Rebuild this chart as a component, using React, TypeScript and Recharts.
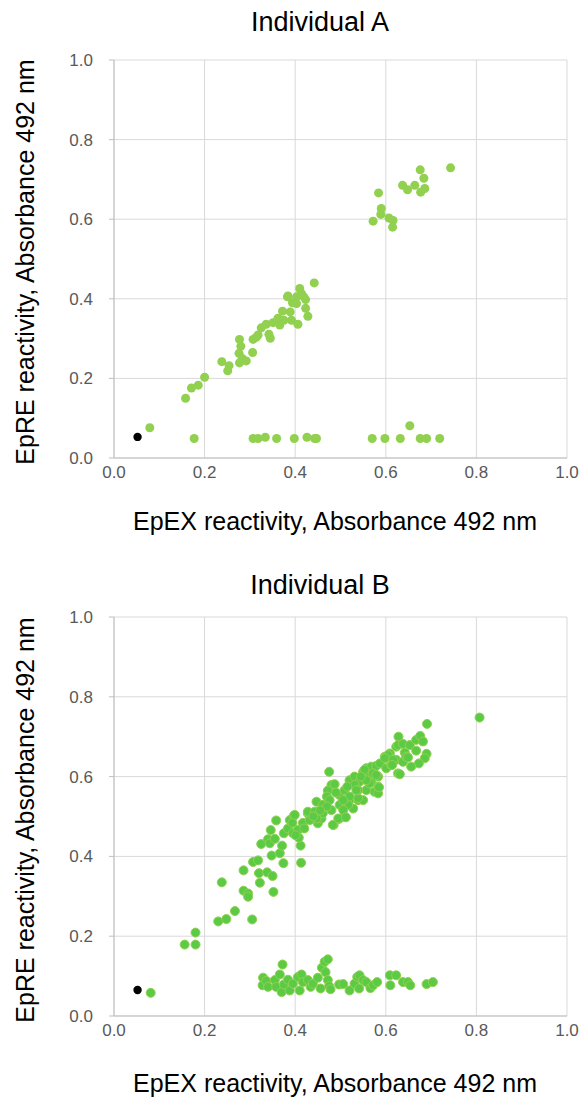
import React from 'react';
import { ScatterChart, Scatter, XAxis, YAxis, CartesianGrid } from 'recharts';

const axisTicks = [0, 0.2, 0.4, 0.6, 0.8, 1.0];
const titles = ['Individual A', 'Individual B'];
const xLabel = 'EpEX reactivity, Absorbance 492 nm';
const yLabel = 'EpRE reactivity, Absorbance 492 nm';

const aGreen: [number, number][] = [
  [0.079, 0.076], [0.158, 0.150], [0.171, 0.176], [0.186, 0.183], [0.200, 0.203], [0.238, 0.242],
  [0.254, 0.232], [0.251, 0.219], [0.277, 0.298], [0.280, 0.281], [0.276, 0.263], [0.283, 0.250],
  [0.277, 0.239], [0.292, 0.244], [0.306, 0.265], [0.307, 0.298], [0.314, 0.303], [0.318, 0.309],
  [0.325, 0.327], [0.336, 0.336], [0.342, 0.311], [0.345, 0.301], [0.351, 0.340], [0.362, 0.351],
  [0.366, 0.334], [0.372, 0.369], [0.375, 0.346], [0.384, 0.407], [0.389, 0.367], [0.392, 0.346],
  [0.394, 0.390], [0.403, 0.405], [0.410, 0.426], [0.414, 0.413], [0.419, 0.405], [0.423, 0.398],
  [0.406, 0.336], [0.423, 0.376], [0.428, 0.356], [0.442, 0.440], [0.403, 0.388], [0.383, 0.405],
  [0.743, 0.729], [0.676, 0.724], [0.684, 0.703], [0.637, 0.685], [0.648, 0.674], [0.664, 0.685],
  [0.677, 0.668], [0.686, 0.677], [0.584, 0.666], [0.590, 0.627], [0.589, 0.612], [0.572, 0.595],
  [0.607, 0.603], [0.616, 0.597], [0.615, 0.580],
  [0.177, 0.049], [0.307, 0.049], [0.318, 0.049], [0.334, 0.052], [0.359, 0.049], [0.398, 0.049],
  [0.426, 0.052], [0.443, 0.049], [0.447, 0.049], [0.570, 0.049], [0.598, 0.049], [0.632, 0.049],
  [0.653, 0.081], [0.676, 0.049], [0.690, 0.049], [0.719, 0.049],
];
const aBlack: [number, number][] = [[0.052, 0.053]];

const bGreen: [number, number][] = [
  [0.156, 0.179], [0.180, 0.179], [0.180, 0.209], [0.230, 0.237], [0.248, 0.243], [0.267, 0.263],
  [0.305, 0.242], [0.238, 0.335], [0.286, 0.314], [0.296, 0.307], [0.296, 0.299], [0.322, 0.334],
  [0.352, 0.311], [0.286, 0.365], [0.307, 0.386], [0.318, 0.390], [0.320, 0.358], [0.338, 0.360],
  [0.350, 0.351], [0.374, 0.383], [0.413, 0.384], [0.348, 0.402], [0.366, 0.408], [0.371, 0.427],
  [0.412, 0.427], [0.325, 0.431], [0.340, 0.443], [0.344, 0.433], [0.355, 0.444], [0.346, 0.466],
  [0.358, 0.490], [0.375, 0.458], [0.384, 0.470], [0.388, 0.491], [0.397, 0.502], [0.395, 0.458],
  [0.406, 0.466], [0.408, 0.447], [0.401, 0.453], [0.394, 0.484], [0.417, 0.484], [0.428, 0.508],
  [0.434, 0.495], [0.447, 0.537], [0.450, 0.483], [0.458, 0.495], [0.463, 0.529], [0.475, 0.612],
  [0.480, 0.579], [0.487, 0.581], [0.472, 0.565], [0.470, 0.550], [0.485, 0.479], [0.498, 0.554],
  [0.509, 0.566], [0.520, 0.591], [0.531, 0.600], [0.528, 0.520], [0.509, 0.499], [0.497, 0.494],
  [0.480, 0.516], [0.498, 0.529], [0.520, 0.541], [0.539, 0.541], [0.542, 0.587], [0.550, 0.612],
  [0.557, 0.621], [0.568, 0.625], [0.579, 0.627], [0.587, 0.633], [0.598, 0.650], [0.609, 0.658],
  [0.623, 0.675], [0.601, 0.621], [0.612, 0.629], [0.623, 0.642], [0.627, 0.608], [0.575, 0.562],
  [0.583, 0.575], [0.568, 0.587], [0.557, 0.566], [0.550, 0.541], [0.539, 0.546], [0.517, 0.529],
  [0.506, 0.516], [0.495, 0.495], [0.461, 0.529], [0.461, 0.508], [0.447, 0.495], [0.432, 0.491],
  [0.399, 0.504], [0.428, 0.512], [0.443, 0.512], [0.512, 0.498], [0.531, 0.579], [0.539, 0.566],
  [0.564, 0.604], [0.572, 0.608], [0.583, 0.600], [0.583, 0.558], [0.691, 0.732], [0.807, 0.748],
  [0.628, 0.700], [0.627, 0.679], [0.638, 0.682], [0.653, 0.679], [0.667, 0.692], [0.676, 0.702],
  [0.682, 0.688], [0.642, 0.660], [0.667, 0.665], [0.690, 0.657], [0.686, 0.646], [0.673, 0.633],
  [0.656, 0.625], [0.638, 0.637], [0.631, 0.606], [0.605, 0.654], [0.598, 0.646], [0.616, 0.642],
  [0.645, 0.650], [0.649, 0.648], [0.614, 0.629], [0.579, 0.604], [0.585, 0.573], [0.564, 0.583],
  [0.553, 0.617], [0.557, 0.591], [0.535, 0.566], [0.520, 0.550], [0.506, 0.541], [0.476, 0.541],
  [0.483, 0.479], [0.490, 0.560], [0.515, 0.575], [0.545, 0.600], [0.470, 0.525], [0.455, 0.515],
  [0.440, 0.500], [0.420, 0.470],
  [0.329, 0.096], [0.328, 0.077], [0.336, 0.088], [0.340, 0.073], [0.355, 0.090], [0.358, 0.073],
  [0.366, 0.104], [0.372, 0.129], [0.370, 0.060], [0.375, 0.079], [0.384, 0.091], [0.388, 0.064],
  [0.395, 0.081], [0.406, 0.098], [0.410, 0.064], [0.414, 0.104], [0.417, 0.085], [0.428, 0.090],
  [0.434, 0.073], [0.439, 0.081], [0.450, 0.096], [0.456, 0.069], [0.459, 0.121], [0.465, 0.136],
  [0.472, 0.142], [0.467, 0.110], [0.472, 0.090], [0.475, 0.075], [0.478, 0.067], [0.497, 0.079],
  [0.506, 0.080], [0.520, 0.064], [0.531, 0.081], [0.537, 0.098], [0.542, 0.102], [0.541, 0.069],
  [0.550, 0.090], [0.557, 0.085], [0.566, 0.070], [0.572, 0.077], [0.581, 0.085], [0.609, 0.102],
  [0.623, 0.102], [0.610, 0.077], [0.638, 0.085], [0.649, 0.085], [0.654, 0.077], [0.690, 0.080],
  [0.704, 0.085], [0.081, 0.058],
];
const bBlack: [number, number][] = [[0.052, 0.065]];

const toRows = (pts: [number, number][]) => pts.map(([x, y]) => ({ x, y }));

const FONT = '"Liberation Sans", Arial, sans-serif';
const W = 580;
const H = 549;

type PanelProps = {
  title: string;
  green: [number, number][];
  black: [number, number][];
  fill: string;
  stroke?: string;
  top: number;
  bottom: number;
  titleCenter: number;
  xLabelCenter: number;
};

const Panel = ({ title, green, black, fill, stroke, top, bottom, titleCenter, xLabelCenter }: PanelProps) => {
  const dot = (f: string, s: string | undefined, r: number) => (p: any) => (
    <circle cx={p.cx} cy={p.cy} r={r} fill={f} stroke={s || 'none'} strokeWidth={s ? 1 : 0} />
  );
  const plotBottom = H - bottom - 30;
  const midY = (top + plotBottom) / 2 + 3;
  return (
    <div style={{ position: 'relative', width: W, height: H }}>
      <ScatterChart width={W} height={H} margin={{ top, right: 13, bottom, left: 54 }}>
        <CartesianGrid stroke="#d9d9d9" strokeWidth={1} />
        <XAxis
          type="number"
          dataKey="x"
          domain={[0, 1]}
          ticks={axisTicks}
          tickFormatter={(v: number) => v.toFixed(1)}
          tickLine={false}
          tickSize={0}
          tickMargin={8}
          height={30}
          axisLine={{ stroke: '#bfbfbf' }}
          tick={{ fill: '#595959', fontSize: 17, fontFamily: FONT }}
          allowDataOverflow
        />
        <YAxis
          type="number"
          dataKey="y"
          domain={[0, 1]}
          ticks={axisTicks}
          tickFormatter={(v: number) => v.toFixed(1)}
          tickSize={5}
          tickMargin={16}
          width={60}
          tickLine={{ stroke: '#bfbfbf' }}
          axisLine={{ stroke: '#bfbfbf' }}
          tick={{ fill: '#595959', fontSize: 17, fontFamily: FONT }}
          allowDataOverflow
        />
        <Scatter data={toRows(green)} isAnimationActive={false} shape={dot(fill, stroke, 4.5)} />
        <Scatter data={toRows(black)} isAnimationActive={false} shape={dot('#000000', undefined, 4.2)} />
      </ScatterChart>
      <div style={{ position: 'absolute', left: 320, top: titleCenter, width: 0, height: 0 }}>
        <div
          style={{
            position: 'absolute', left: 0, top: 0, transform: 'translate(-50%, -50%)',
            fontFamily: FONT, fontSize: 27, color: '#000', whiteSpace: 'nowrap',
          }}
        >
          {title}
        </div>
      </div>
      <div style={{ position: 'absolute', left: 335, top: xLabelCenter, width: 0, height: 0 }}>
        <div
          style={{
            position: 'absolute', left: 0, top: 0, transform: 'translate(-50%, -50%)',
            fontFamily: FONT, fontSize: 25, color: '#000', whiteSpace: 'nowrap',
          }}
        >
          {xLabel}
        </div>
      </div>
      <div style={{ position: 'absolute', left: 25, top: midY, width: 0, height: 0 }}>
        <div
          style={{
            position: 'absolute', left: 0, top: 0, transform: 'translate(-50%, -50%) rotate(-90deg)',
            fontFamily: FONT, fontSize: 25, color: '#000', whiteSpace: 'nowrap',
          }}
        >
          {yLabel}
        </div>
      </div>
    </div>
  );
};

export default function App() {
  return (
    <div style={{ position: 'absolute', left: 0, top: 0, width: W, height: 1098, background: '#fff' }}>
      <Panel
        title={titles[0]} green={aGreen} black={aBlack} fill="#92D050"
        top={60} bottom={61} titleCenter={22} xLabelCenter={521}
      />
      <Panel
        title={titles[1]} green={bGreen} black={bBlack} fill="#5BCB45" stroke="#92D050"
        top={68} bottom={52} titleCenter={36} xLabelCenter={534}
      />
    </div>
  );
}
